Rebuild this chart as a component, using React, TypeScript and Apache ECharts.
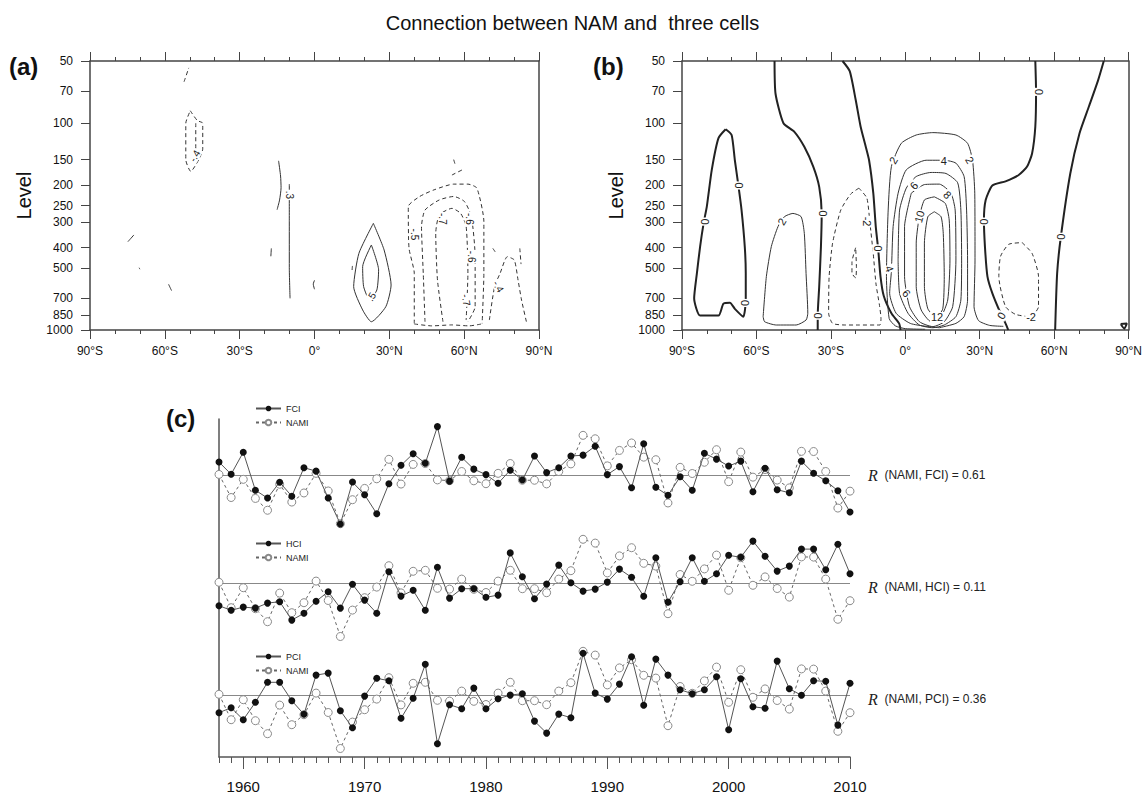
import React, { useEffect, useRef } from 'react';
import * as echarts from 'echarts';

// ---------------- DATA ----------------
const YEARS = [1958,1959,1960,1961,1962,1963,1964,1965,1966,1967,1968,1969,1970,1971,1972,1973,1974,1975,1976,1977,1978,1979,1980,1981,1982,1983,1984,1985,1986,1987,1988,1989,1990,1991,1992,1993,1994,1995,1996,1997,1998,1999,2000,2001,2002,2003,2004,2005,2006,2007,2008,2009,2010];
const NAMI = [0.07,-1.2,-0.2,-1.25,-1.9,-0.47,-1.45,-0.95,0.13,-0.84,-2.64,-1.32,-0.7,-0.17,0.9,-0.46,0.62,0.67,-0.23,-0.27,0.23,-0.28,-0.44,0.13,0.67,-0.25,-0.25,-0.45,0.23,0.65,2.22,2.03,0.54,1.39,1.8,1.02,0.88,-1.5,0.46,0.12,0.74,1.43,-0.33,1.3,-0.08,0.34,-0.24,-0.67,1.34,1.33,0.23,-1.78,-0.85];
const FCI = [0.75,0.08,1.29,-0.8,-1.23,-0.36,-1.13,0.44,0.25,-1.23,-2.66,-0.35,-1.05,-2.09,-0.44,0.57,1.21,0.68,2.7,-0.3,1.01,0.36,0.06,-0.42,0.3,-0.24,1.08,0.17,0.44,1.08,1.13,1.62,0.06,0.5,-0.66,1.76,-0.64,-1.08,-0.06,-0.8,1.23,0.91,0.53,0.8,-0.88,0.41,-0.77,-0.94,0.8,0.13,-0.28,-0.83,-2.0];
const HCI = [-1.1,-1.33,-1.17,-1.22,-0.97,-0.9,-1.82,-1.48,-0.88,-0.4,-1.22,-0.03,-0.82,-1.48,0.6,-0.62,-0.33,-1.33,0.82,-0.72,-0.25,-0.25,-0.68,-0.57,1.54,0.35,-0.75,-0.02,0.93,0.05,-0.37,-0.27,0.08,0.73,0.32,-0.63,1.3,-0.92,0.1,1.3,0.12,0.5,1.42,1.32,2.13,1.37,0.63,0.88,1.73,1.73,0.7,1.97,0.5];
const PCI = [-0.85,-0.6,-1.2,-0.33,0.67,0.67,-0.25,-0.93,1.03,1.13,-0.75,-1.6,-0.02,0.87,0.75,-1.13,-0.13,1.57,-2.4,-0.45,-0.65,0.38,-0.65,-0.15,0.03,0.1,-1.27,-1.87,-0.92,-1.1,2.12,0.13,-0.17,0.58,1.95,-0.48,1.83,1.03,0.3,0.1,0.3,0.95,-1.7,0.85,-0.55,-0.63,1.73,0.35,0.02,0.75,0.72,-1.47,0.62];
const DECADES = [1960,1970,1980,1990,2000,2010];
const LEVELS = [50,70,100,150,200,250,300,400,500,700,850,1000];
const R_TEXTS = ['(NAMI, FCI) = 0.61','(NAMI, HCI) = 0.11','(NAMI, PCI) = 0.36'];

type P = [number, number];
// Panel (a): correlation contours [lat, hPa]
const A_POS: P[][] = [
  [[-74.8,374],[-72.4,347]],
  [[-70.3,500],[-70.0,508]],
  [[-58.5,601],[-57.3,645]],
  [[-14.4,152],[-13.6,180],[-13.4,205],[-14,235],[-15.0,262]],
  [[-10.1,197],[-10.1,300],[-10.1,500],[-9.8,703]],
  [[-17.3,403],[-17.5,440]],
  [[0,575],[-0.5,600],[0,635]],
  [[23.6,305],[27.9,410],[30.7,606],[28.6,771],[22.8,912],[19.3,800],[15.7,617],[17.8,426],[23.6,305]],
  [[22.8,388],[25.7,512],[25,640],[22.1,716],[19.7,617],[19.3,494],[22.8,388]],
];
const A_NEG: P[][] = [
  [[-52.3,63],[-50.4,54]],
  [[-49.8,87],[-47,97],[-44.8,100],[-44.8,133],[-46.4,150],[-49.6,171],[-51.6,150],[-51.6,100],[-49.8,87]],
  [[-47.6,100],[-47.6,140]],
  [[15.2,490],[15.0,525]],
  [[40.0,929],[40.0,532],[37.9,403],[37.6,253],[42.2,226],[47.9,210],[55.8,197],[61.5,197],[65.1,206],[67.9,299],[67.9,532],[67.2,929]],
  [[44.3,912],[43.6,532],[42.9,316],[44.3,263],[50.0,235],[55.8,226],[60.1,239],[62.9,283],[64.4,442],[64.4,771],[61.5,912]],
  [[51.5,912],[49.3,573],[48.6,341],[50.0,278],[55.1,258],[58.6,273],[60.8,316],[61.5,532],[60.8,895]],
  [[40,935],[47,955],[55,945],[62,955],[67,935]],
  [[70.1,895],[72.2,617],[74.4,532],[77.3,442],[80.1,459],[81.6,573],[83.0,716],[85.1,929]],
  [[82.3,403],[82.8,480]],
  [[71.5,403],[72.8,425]],
  [[55.8,150],[56.3,157]],
  [[55.1,178],[60.1,166]],
];
const A_LABELS: [number, number, string, number][] = [
  [-48,144,'-.4',60],[-10.1,222,'.3',-90],[22.8,690,'.5',60],[40,345,'-.5',-90],
  [51.5,290,'-.7',-90],[62.2,290,'-.6',-90],[62.9,442,'-.6',-90],[60.8,716,'-.7',-80],[73.7,617,'-.4',-60],
];
// Panel (b): mass stream function contours [lat, hPa]
const B_ZERO: P[][] = [
  [[-72.4,107],[-70.0,114],[-68.7,151],[-67.3,199],[-66.0,263],[-64.7,395],[-64.3,532],[-64.3,716],[-65.3,862],[-68.7,790],[-70.7,738],[-73.3,745],[-75.3,852],[-82.7,852],[-85.1,703],[-84.0,532],[-82.7,395],[-81.3,305],[-80.0,253],[-78.0,168],[-75.3,118],[-72.4,107]],
  [[-52.7,50],[-52.3,72],[-49.1,100],[-44.7,110],[-40.7,130],[-37.1,162],[-34.7,203],[-33.7,273],[-34.0,395],[-34.7,617],[-35.3,852],[-35.3,1000]],
  [[-25.3,50],[-22.4,56],[-20.0,77],[-18.0,104],[-16.3,125],[-14.6,151],[-12.9,218],[-11.9,316],[-10.9,410],[-10.0,550],[-8.7,683],[-5.6,830],[-2.5,929],[-1.9,1000]],
  [[52.4,50],[52.7,70],[52.4,104],[51.1,140],[49.1,162],[45.7,178],[40.4,191],[35.1,200],[32.4,235],[31.7,294],[32.1,395],[33.1,550],[35.1,665],[38.4,830],[40.4,929],[41.5,1000]],
  [[80,50],[77.7,62],[74,83],[70.2,112],[66.5,175],[62.7,354],[61.2,532],[60.4,1000]],
  [[86.8,935],[89.3,930],[88.3,985],[86.8,935]],
];
const B_POS: P[][] = [
  [[-57.3,862],[-56.0,552],[-54.0,395],[-51.3,316],[-48.7,283],[-45.3,273],[-42.0,283],[-40.7,341],[-40.0,532],[-39.3,830],[-40.0,895],[-44.0,946],[-52.0,946],[-56.7,912],[-57.3,862]],
  [[8,992],[0,985],[-4,955],[-6.5,880],[-7.6,552],[-6.9,263],[-5.6,162],[-1.6,125],[4.4,114],[11.1,111],[20.4,114],[25.1,125],[27.1,151],[28.0,218],[28.1,459],[27.7,771],[29.5,900],[34,950],[39.5,960]],
  [[13.7,975],[8.4,960],[2,929],[-3.7,830],[-6.3,665],[-5.6,520],[-4.9,316],[-2.9,218],[0.4,168],[8.4,151],[15.7,151],[20.4,156],[23.7,181],[24.7,263],[25.1,459],[25.1,716],[23.7,862],[20.4,929],[13.7,975]],
  [[-2.9,459],[-2.3,263],[0.4,206],[4.4,181],[10.4,173],[16.4,175],[21.1,194],[22.4,263],[22.7,459],[22.4,716],[20.4,862],[15.7,946],[11.1,975],[5.7,946],[1.1,830],[-2.3,665],[-2.9,459]],
  [[2.4,218],[-0.3,316],[-0.3,552],[1.7,771],[5.7,912],[11.1,963],[15.7,912],[19.1,771],[20.4,459],[20.1,263],[18.4,218],[13.7,197],[7.7,198],[2.4,218]],
  [[11.7,227],[7.7,235],[5.5,291],[4.4,380],[4.4,617],[6.4,800],[10.4,912],[14.4,862],[17.1,716],[18.0,459],[17.7,294],[16.1,244],[11.7,227]],
  [[11.7,268],[9.1,283],[7.7,380],[7.7,617],[9.1,790],[12.4,870],[15.1,790],[15.7,550],[15.3,341],[14.4,283],[11.7,268]],
];
const B_NEG: P[][] = [
  [[-18.7,206],[-22,220],[-26.0,263],[-29.3,380],[-30.7,552],[-30.9,830],[-29.3,929],[-24,946],[-18.7,946],[-10.3,946],[-9.8,880],[-10.4,760],[-11.8,600],[-12.9,430],[-14.3,300],[-15.5,230],[-18.7,206]],
  [[-20,400],[-21.5,470],[-21.5,530],[-20,560],[-19.7,500],[-20,400]],
  [[47.1,378],[51.1,426],[53.7,552],[53.7,771],[50.4,862],[44.4,840],[40.4,771],[37.7,552],[38.4,440],[41.7,385],[47.1,378]],
];
const B_LABELS: [number, number, string, number][] = [
  [-80.6,299,'0',90],[-67.0,200,'0',90],[-64.5,740,'0',90],[-33.3,273,'0',90],[-35.1,853,'0',90],
  [-11.1,403,'0',90],[53.7,70.5,'0',90],[31.9,299,'0',90],[38.7,853,'0',60],[62.7,354,'0',90],
  [-49.8,299,'2',60],[-4.8,151,'2',60],[26,151,'2',-60],[-15.3,299,'-2',-90],[50.7,870,'-2',0],
  [15.5,152,'4',0],[-6.3,505,'4',-70],[3.5,200,'6',50],[0.45,665,'6',-50],[17,222,'8',-45],
  [5.7,283,'10',75],[12.8,870,'12',0],
];

// ---------------- HELPERS ----------------
const FONT = 'Liberation Sans, Arial, Helvetica, sans-serif';
const lg = (p: number) => Math.log10(p);
const latFmt = (v: number) => (v < 0 ? `${-v}°S` : v > 0 ? `${v}°N` : '0°');

function contourSeries(lines: P[][], axis: number, color: string, width: number, dashed: boolean) {
  return lines.map((pts) => ({
    type: 'line', xAxisIndex: axis * 2, yAxisIndex: axis * 2,
    data: pts.map(([lat, p]) => [lat, lg(p)]),
    showSymbol: false, symbol: 'none', smooth: 0.2, silent: true, z: 2,
    lineStyle: { color, width, type: dashed ? [4, 3] : 'solid' },
  }));
}
function labelSeries(labels: [number, number, string, number][], axis: number, fontSize: number) {
  return {
    type: 'scatter', xAxisIndex: axis * 2, yAxisIndex: axis * 2, symbolSize: 1, silent: true, z: 5,
    itemStyle: { color: '#ffffff', opacity: 1 },
    label: { show: true, position: 'inside', fontSize, color: '#222222', textBorderWidth: 0,
      backgroundColor: '#ffffff', padding: [0, 1], fontFamily: FONT },
    data: labels.map(([lat, p, text, rot]) => ({
      value: [lat, lg(p)],
      label: { formatter: text, rotate: rot },
    })),
  };
}
function mapAxesX(pos: 'bottom' | 'top', gridIndex: number) {
  return {
    type: 'value', gridIndex, position: pos, min: -90, max: 90, interval: 30,
    axisLine: { show: true, onZero: false, lineStyle: { color: '#444', width: 1.5 } },
    axisTick: { show: true, length: 9, lineStyle: { color: '#444' } },
    minorTick: { show: true, splitNumber: 3, length: 4, lineStyle: { color: '#444' } },
    axisLabel: { show: pos === 'bottom', formatter: latFmt, fontSize: 12, color: '#111', margin: 15, fontFamily: FONT },
    splitLine: { show: false }, minorSplitLine: { show: false },
  };
}
function mapAxesY(pos: 'left' | 'right', gridIndex: number) {
  const vals = LEVELS.map(lg);
  return {
    type: 'value', gridIndex, position: pos, inverse: true, min: lg(50), max: lg(1000),
    axisLine: { show: true, onZero: false, lineStyle: { color: '#444', width: 1.5 } },
    axisTick: { show: pos === 'left', customValues: vals, length: 9, lineStyle: { color: '#444' } },
    axisLabel: { show: pos === 'left', customValues: vals, formatter: (v: number) => String(Math.round(Math.pow(10, v))),
      fontSize: 12, color: '#111', margin: 17, fontFamily: FONT },
    splitLine: { show: false },
    name: pos === 'left' ? 'Level' : '', nameLocation: 'middle', nameGap: 56,
    nameTextStyle: { fontSize: 20, color: '#111', fontFamily: FONT },
  };
}

export default function App() {
  const ref = useRef<HTMLDivElement>(null);
  useEffect(() => {
    if (!ref.current) return;
    const chart = echarts.init(ref.current, undefined, { renderer: 'svg' });
    const dataGrid = (top: number) => ({ left: 219, top, width: 631, height: 120 });
    const hiddenX = (gridIndex: number) => ({ type: 'value', gridIndex, min: 1958, max: 2010, show: false, splitLine: { show: false } });
    const hiddenY = (gridIndex: number, lim: number) => ({ type: 'value', gridIndex, min: -lim, max: lim, show: false, splitLine: { show: false } });
    const pairSeries = (name: string, vals: number[], xi: number, yi: number) => [
      {
        name: 'NAMI', type: 'line', xAxisIndex: xi, yAxisIndex: yi, z: 3,
        data: YEARS.map((y, i) => [y, NAMI[i]]),
        symbol: 'circle', symbolSize: 8, showSymbol: true,
        itemStyle: { color: '#ffffff', borderColor: '#8a8a8a', borderWidth: 1 },
        lineStyle: { color: '#666', width: 1, type: [3, 3] },
      },
      {
        name, type: 'line', xAxisIndex: xi, yAxisIndex: yi, z: 4,
        data: YEARS.map((y, i) => [y, vals[i]]),
        symbol: 'circle', symbolSize: 7, showSymbol: true,
        itemStyle: { color: '#111' },
        lineStyle: { color: '#555', width: 1 },
        markLine: { silent: true, symbol: 'none', label: { show: false }, z: 1,
          lineStyle: { color: '#888', width: 1, type: 'solid' }, data: [{ yAxis: 0 }] },
      },
    ];
    const legendAt = (name: string, top: number) => ({
      data: [name, 'NAMI'], left: 250, top, orient: 'vertical', itemWidth: 25, itemHeight: 7, itemGap: 5,
      textStyle: { fontSize: 9, color: '#222', fontFamily: FONT }, selectedMode: false,
    });
    const option: any = {
      animation: false,
      backgroundColor: '#fff',
      textStyle: { fontFamily: FONT },
      title: { text: 'Connection between NAM and  three cells', left: 'center', top: 8,
        textStyle: { fontSize: 20, fontWeight: 'normal', color: '#111', fontFamily: FONT } },
      grid: [
        { left: 90, top: 61, width: 449, height: 269 },
        { left: 682, top: 61, width: 450, height: 269 },
        { left: 219, top: 419, width: 631, height: 338 },
        dataGrid(415.7), dataGrid(523.7), dataGrid(635.7),
      ],
      xAxis: [
        mapAxesX('bottom', 0), mapAxesX('top', 0), mapAxesX('bottom', 1), mapAxesX('top', 1),
        {
          type: 'value', gridIndex: 2, position: 'bottom', min: 1958, max: 2010,
          axisLine: { show: true, onZero: false, lineStyle: { color: '#555', width: 1.5 } },
          axisTick: { show: true, customValues: DECADES, length: 12, lineStyle: { color: '#555' } },
          axisLabel: { customValues: DECADES, formatter: (v: number) => String(v), fontSize: 15, color: '#111', margin: 22, fontFamily: FONT },
          splitLine: { show: false },
        },
        {
          type: 'value', gridIndex: 2, position: 'bottom', min: 1958, max: 2010,
          axisLine: { show: false, onZero: false },
          axisTick: { show: true, customValues: YEARS, length: 6, lineStyle: { color: '#555' } },
          axisLabel: { show: false }, splitLine: { show: false },
        },
        hiddenX(3), hiddenX(4), hiddenX(5),
      ],
      yAxis: [
        mapAxesY('left', 0), mapAxesY('right', 0), mapAxesY('left', 1), mapAxesY('right', 1),
        { type: 'value', gridIndex: 2, min: 0, max: 1, axisLine: { show: true, onZero: false, lineStyle: { color: '#555', width: 1.5 } },
          axisTick: { show: false }, axisLabel: { show: false }, splitLine: { show: false } },
        hiddenY(3, 3.3), hiddenY(4, 3), hiddenY(5, 3),
      ],
      legend: [legendAt('FCI', 399), legendAt('HCI', 534), legendAt('PCI', 647)],
      graphic: [
        { type: 'text', x: 9, y: 66, style: { text: '(a)', fontSize: 24, fontWeight: 'bold', fill: '#111', verticalAlign: 'middle', fontFamily: FONT } },
        { type: 'text', x: 593, y: 66, style: { text: '(b)', fontSize: 24, fontWeight: 'bold', fill: '#111', verticalAlign: 'middle', fontFamily: FONT } },
        { type: 'text', x: 166, y: 418, style: { text: '(c)', fontSize: 24, fontWeight: 'bold', fill: '#111', verticalAlign: 'middle', fontFamily: FONT } },
        ...R_TEXTS.map((t, i) => ({
          type: 'text', x: 868, y: [475, 587, 699][i],
          style: {
            text: `{r|R}  {t|${t}}`, verticalAlign: 'middle',
            rich: {
              r: { fontFamily: 'Liberation Serif, DejaVu Serif, serif', fontStyle: 'italic', fontSize: 16, fill: '#222' },
              t: { fontFamily: FONT, fontSize: 12, fill: '#222' },
            },
          },
        })),
      ],
      series: [
        ...contourSeries(A_POS, 0, '#333', 1, false),
        ...contourSeries(A_NEG, 0, '#333', 1, true),
        labelSeries(A_LABELS, 0, 10),
        ...contourSeries(B_ZERO, 1, '#222', 2, false),
        ...contourSeries(B_POS, 1, '#333', 1, false),
        ...contourSeries(B_NEG, 1, '#333', 1, true),
        labelSeries(B_LABELS, 1, 11),
        ...pairSeries('FCI', FCI, 6, 5),
        ...pairSeries('HCI', HCI, 7, 6),
        ...pairSeries('PCI', PCI, 8, 7),
      ],
    };
    chart.setOption(option);
    return () => chart.dispose();
  }, []);
  return <div ref={ref} style={{ position: 'fixed', left: 0, top: 0, width: 1145, height: 796, background: '#fff' }} />;
}
